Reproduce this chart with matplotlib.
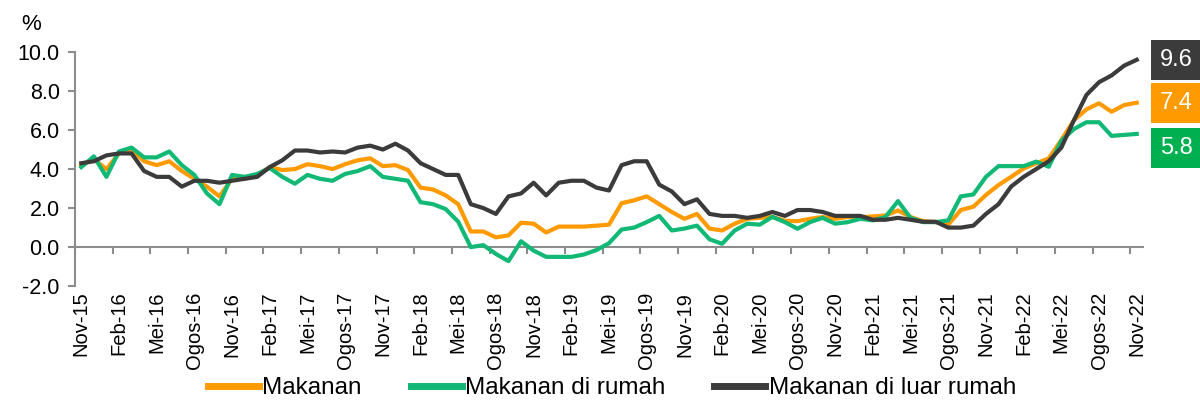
import matplotlib.pyplot as plt

plt.rcParams['font.family'] = ['Liberation Sans', 'DejaVu Sans']

# Monthly data, Nov-15 .. Nov-22 (%)
makanan = [4.2, 4.5, 4.0, 4.8, 5.0, 4.4, 4.2, 4.4, 3.9, 3.5, 3.1, 2.6, 3.5, 3.5, 3.7,
           4.1, 3.95, 4.0, 4.25, 4.15, 4.0, 4.25, 4.45, 4.55, 4.15, 4.2, 3.95, 3.05, 2.95,
           2.65, 2.2, 0.8, 0.8, 0.5, 0.6, 1.25, 1.2, 0.75, 1.05, 1.05, 1.05, 1.1, 1.15,
           2.25, 2.4, 2.6, 2.2, 1.8, 1.45, 1.7, 0.95, 0.85, 1.2, 1.45, 1.5, 1.55, 1.35,
           1.33, 1.45, 1.54, 1.45, 1.54, 1.54, 1.57, 1.62, 1.88, 1.54, 1.33, 1.28, 1.15,
           1.9, 2.07, 2.67, 3.18, 3.6, 4.03, 4.29, 4.55, 5.49, 6.5, 7.06, 7.37, 6.94,
           7.28, 7.4]
di_rumah = [4.1, 4.65, 3.6, 4.9, 5.1, 4.6, 4.6, 4.9, 4.2, 3.7, 2.75, 2.2, 3.7, 3.6, 3.75,
            4.05, 3.6, 3.25, 3.7, 3.5, 3.4, 3.75, 3.9, 4.15, 3.6, 3.5, 3.4, 2.3, 2.2,
            1.95, 1.3, 0.0, 0.1, -0.35, -0.72, 0.3, -0.18, -0.5, -0.5, -0.5, -0.38, -0.15,
            0.2, 0.9, 1.0, 1.28, 1.6, 0.85, 0.95, 1.1, 0.4, 0.17, 0.85, 1.2, 1.15, 1.55,
            1.28, 0.94, 1.28, 1.5, 1.2, 1.28, 1.45, 1.37, 1.54, 2.36, 1.5, 1.28, 1.28,
            1.37, 2.6, 2.7, 3.6, 4.15, 4.15, 4.15, 4.38, 4.12, 5.45, 6.05, 6.4, 6.4, 5.7,
            5.75, 5.8]
luar_rumah = [4.3, 4.4, 4.7, 4.8, 4.8, 3.9, 3.6, 3.6, 3.1, 3.4, 3.4, 3.3, 3.4, 3.5, 3.6,
              4.1, 4.45, 4.95, 4.95, 4.85, 4.9, 4.85, 5.1, 5.2, 5.0, 5.3, 4.95, 4.3, 4.0,
              3.7, 3.7, 2.2, 2.0, 1.7, 2.6, 2.75, 3.3, 2.65, 3.3, 3.4, 3.4, 3.05, 2.9,
              4.2, 4.4, 4.4, 3.2, 2.85, 2.2, 2.45, 1.7, 1.6, 1.6, 1.5, 1.6, 1.8, 1.6,
              1.9, 1.9, 1.8, 1.6, 1.6, 1.6, 1.4, 1.4, 1.5, 1.4, 1.3, 1.3, 1.0, 1.0,
              1.1, 1.7, 2.2, 3.1, 3.6, 4.0, 4.4, 5.1, 6.5, 7.8, 8.45, 8.8, 9.3, 9.6]

tick_labels = ['Nov-15', 'Feb-16', 'Mei-16', 'Ogos-16', 'Nov-16', 'Feb-17', 'Mei-17',
               'Ogos-17', 'Nov-17', 'Feb-18', 'Mei-18', 'Ogos-18', 'Nov-18', 'Feb-19',
               'Mei-19', 'Ogos-19', 'Nov-19', 'Feb-20', 'Mei-20', 'Ogos-20', 'Nov-20',
               'Feb-21', 'Mei-21', 'Ogos-21', 'Nov-21', 'Feb-22', 'Mei-22', 'Ogos-22',
               'Nov-22']

c_orange = '#FF9A00'
c_green = '#12B875'
c_dark = '#3B3B3B'
c_axis = '#8C8C8C'

n = len(makanan)
x = list(range(n))

fig = plt.figure(figsize=(12, 4.03), dpi=100)
ax = fig.add_axes([0.0625, 0.29, 0.89, 0.581])

lw = 3.0
ax.plot(x, makanan, color=c_orange, lw=lw, label='Makanan', solid_joinstyle='round')
ax.plot(x, di_rumah, color=c_green, lw=lw, label='Makanan di rumah', solid_joinstyle='round')
ax.plot(x, luar_rumah, color=c_dark, lw=lw, label='Makanan di luar rumah', solid_joinstyle='round')

ax.set_xlim(-0.5, n - 0.5)
ax.set_ylim(-2, 10)
ax.set_yticks([-2, 0, 2, 4, 6, 8, 10])
ax.set_yticklabels([f'{v:.1f}' for v in [-2, 0, 2, 4, 6, 8, 10]])

for s in ['top', 'right', 'bottom']:
    ax.spines[s].set_visible(False)
ax.spines['left'].set_color(c_axis)
ax.spines['left'].set_linewidth(1.5)
ax.tick_params(axis='y', colors=c_axis, length=5, width=1.5, labelsize=15.5,
               labelcolor='black', pad=6)

# category labels under the plot
ax.set_xticks(list(range(0, n, 3)))
ax.set_xticklabels(tick_labels, rotation=90, fontsize=14.5)
ax.tick_params(axis='x', length=0, pad=4)

# x axis line at zero with ticks on category boundaries
zero_frac = (0 - (-2)) / (10 - (-2))
sec = ax.secondary_xaxis(zero_frac)
sec.set_xticks([b - 0.5 for b in range(0, n, 3)])
sec.set_xticklabels([])
sec.spines['bottom'].set_color(c_axis)
sec.spines['bottom'].set_linewidth(1.5)
sec.tick_params(axis='x', colors=c_axis, length=5, width=1.5, direction='out')

fig.text(0.018, 0.925, '%', fontsize=16)

# end value boxes
ends = [(luar_rumah[-1], c_dark, 9.6), (makanan[-1], c_orange, 7.4), (di_rumah[-1], '#00B050', 5.1)]
for val, col, ypos in ends:
    ax.annotate(f'{val:.1f}', xy=(1, ypos), xycoords=('axes fraction', 'data'),
                xytext=(1176, 0), textcoords=('figure pixels', 'offset points'),
                ha='center', va='center', fontsize=17, color='white',
                bbox=dict(boxstyle='square,pad=0.38', fc=col, ec='none'),
                annotation_clip=False)

leg = fig.legend(loc='lower center', bbox_to_anchor=(0.51, -0.045), ncol=3, frameon=False,
                 fontsize=17.5, handlelength=2.1, handletextpad=0.15, columnspacing=2.0)
for h in leg.get_lines():
    h.set_linewidth(5)

fig.savefig('out.png', dpi=100)
